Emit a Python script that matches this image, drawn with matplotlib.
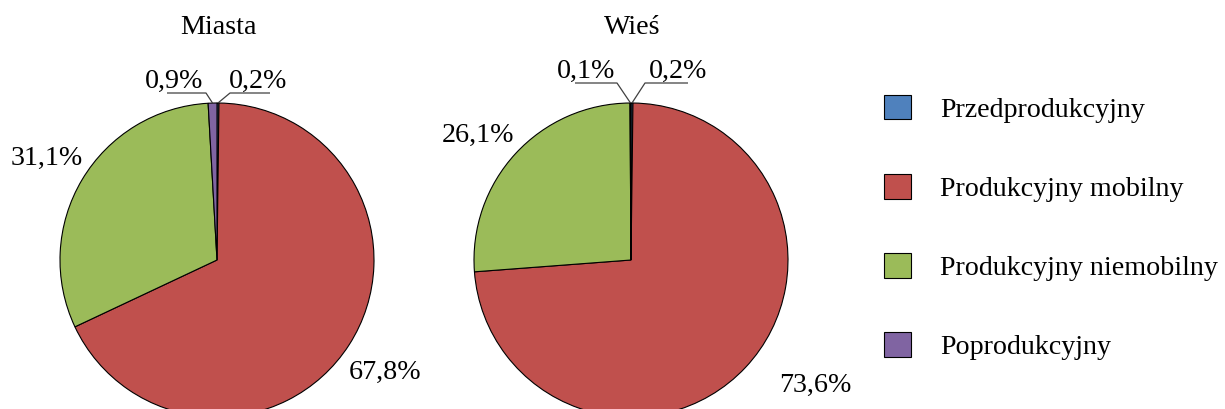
import matplotlib.pyplot as plt
import numpy as np

plt.rcParams["font.family"] = ["Liberation Serif", "DejaVu Serif"]

categories = ["Przedprodukcyjny", "Produkcyjny mobilny",
              "Produkcyjny niemobilny", "Poprodukcyjny"]
colors = ["#4F81BD", "#C0504D", "#9BBB59", "#8064A2"]
miasta = [0.2, 67.8, 31.1, 0.9]
wies = [0.2, 73.6, 26.1, 0.1]
titles = ["Miasta", "Wieś"]

W, H = 1225, 409
fig = plt.figure(figsize=(W / 100, H / 100), dpi=100)
ax = fig.add_axes([0, 0, 1, 1])

R = 157
centers = [(217, H - 260), (631, H - 260)]
fs = 20.2


def fmt(v):
    return f"{v:.1f}".replace(".", ",") + "%"


# label text centre, and for small slices: (elbow point, underline end)
big_pos = [
    {1: (385, 372), 2: (47, 158)},
    {1: (815, 385), 2: (478, 135)},
]
small_pos = [
    {0: ((258, 81), (230, 93), (270, 93)), 3: ((174, 81), (206, 93), (167, 93))},
    {0: ((678, 71), (645, 83), (688, 83)), 3: ((586, 71), (617, 83), (575, 83))},
]

wedges_all = []
for k, data in enumerate([miasta, wies]):
    cx, cy = centers[k]
    wedges, _ = ax.pie(data, colors=colors, startangle=90, counterclock=False,
                       center=(cx, cy), radius=R, frame=True,
                       wedgeprops=dict(edgecolor="black", linewidth=0.8))
    wedges_all.append(wedges)
    ax.text(cx + 1, H - 28, titles[k], ha="center", va="center", fontsize=fs)
    for i, v in enumerate(data):
        if i in big_pos[k]:
            x, y = big_pos[k][i]
            ax.text(x, H - y, fmt(v), ha="center", va="center", fontsize=fs)
        else:
            (tx, ty), (ex, ey), (ux, uy) = small_pos[k][i]
            w = wedges[i]
            ang = np.deg2rad((w.theta1 + w.theta2) / 2)
            px = cx + R * np.cos(ang)
            py = cy + R * np.sin(ang)
            ax.plot([px, ex, ux], [py, H - ey, H - uy], color="#404040",
                    linewidth=0.9, solid_capstyle="butt")
            ax.text(tx, H - ty, fmt(v), ha="center", va="center", fontsize=fs)

ax.set_xlim(0, W)
ax.set_ylim(0, H)
ax.set_aspect("equal")
ax.axis("off")

ax.legend(wedges_all[0], categories, loc="upper left",
          bbox_to_anchor=(873 / W, 1 - 84 / H), frameon=False, fontsize=fs,
          handlelength=0.95, handleheight=0.95, handletextpad=1.05,
          labelspacing=1.83, borderaxespad=0)

fig.savefig("out.png", dpi=100)
